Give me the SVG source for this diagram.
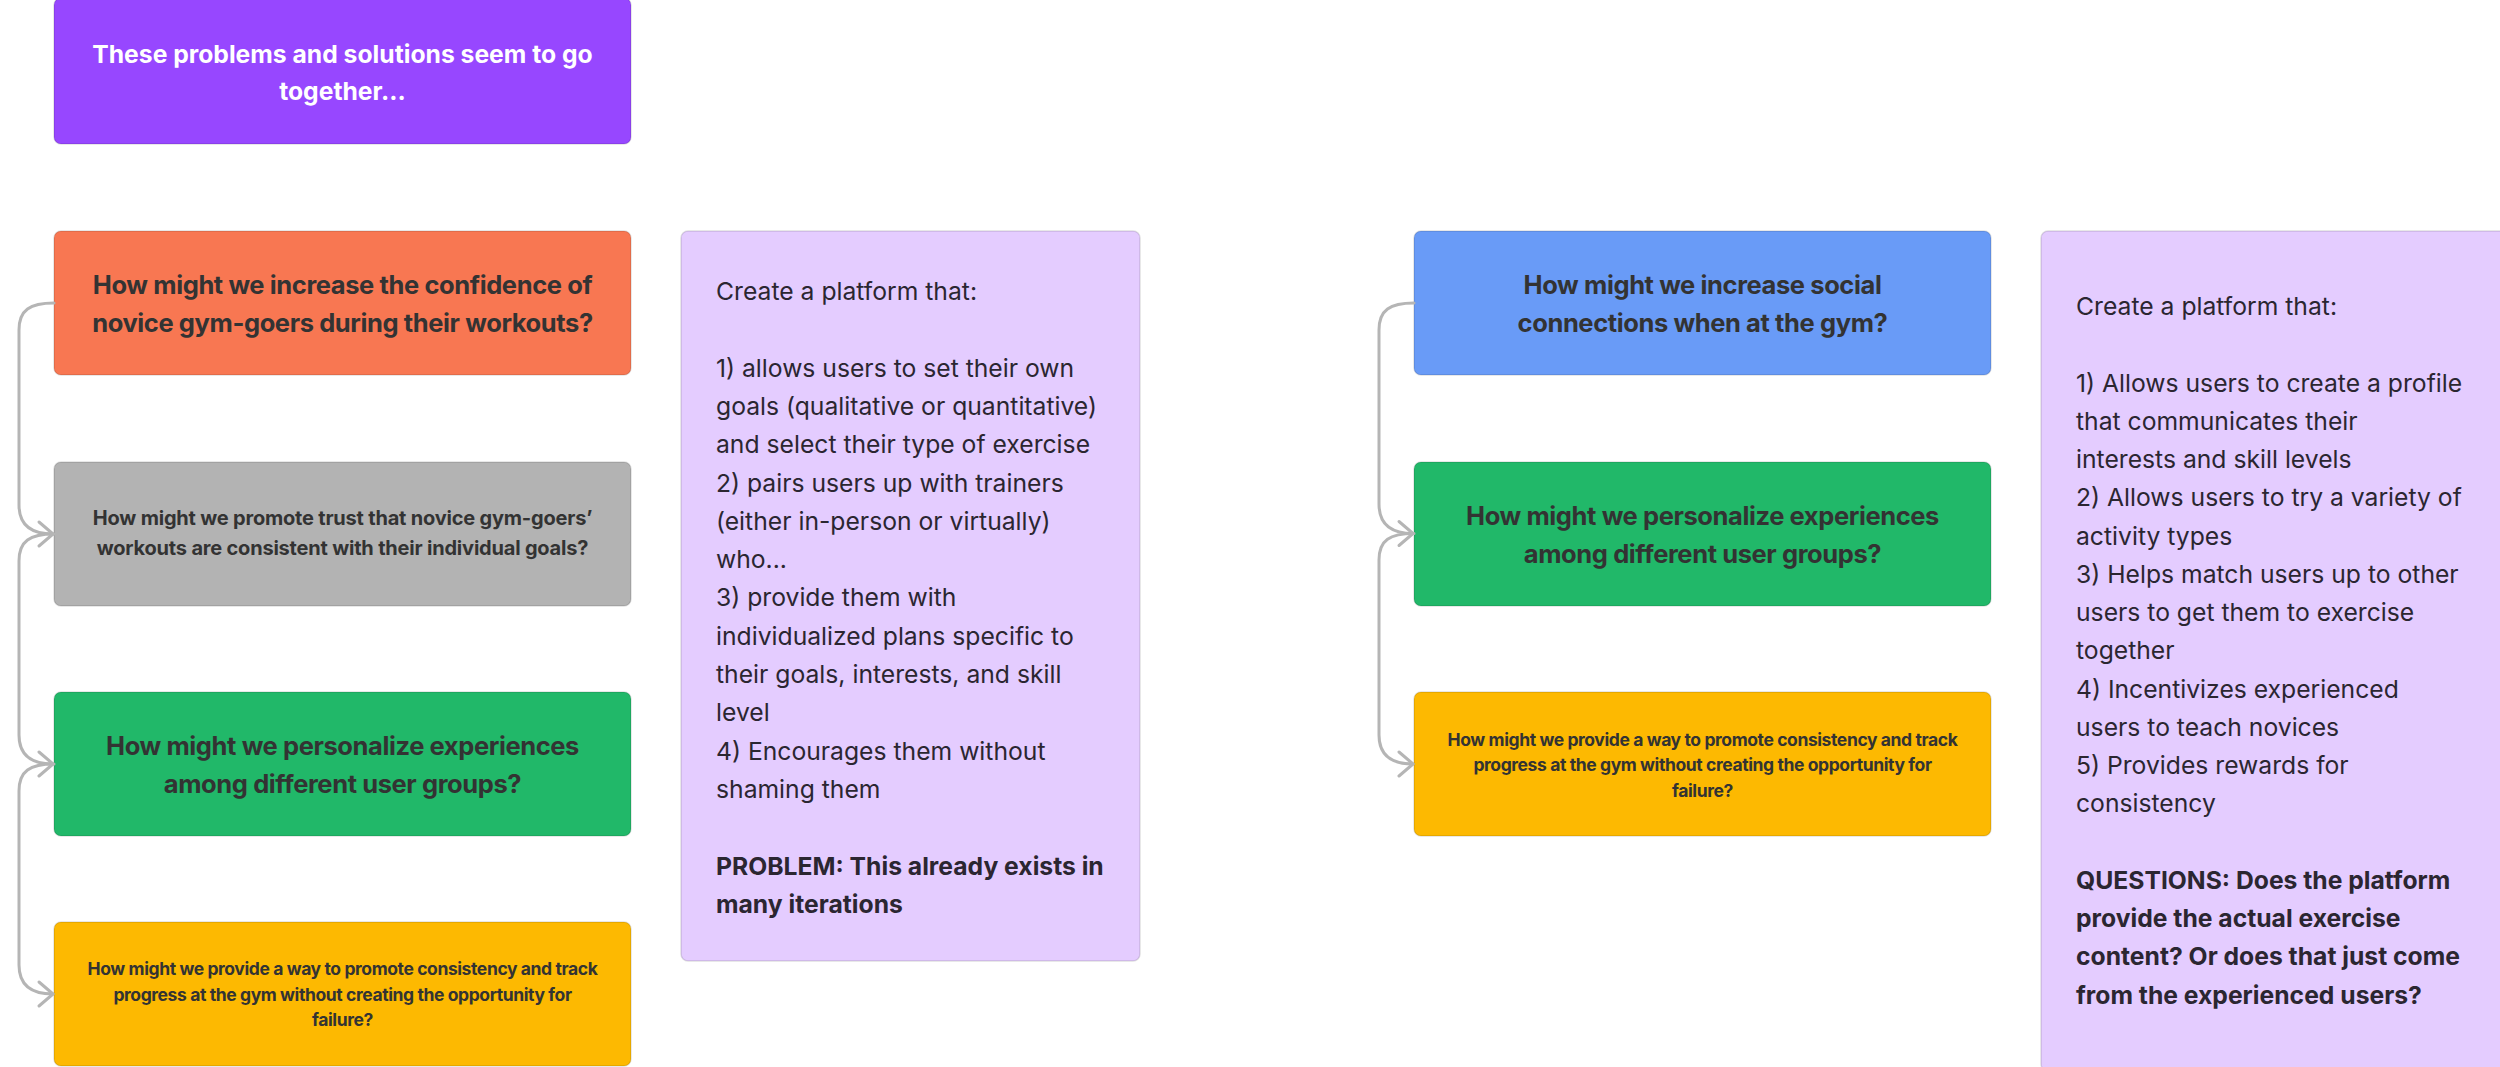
<svg xmlns="http://www.w3.org/2000/svg" width="2500" height="1067" viewBox="0 0 2500 1067">
<style>
.box{stroke:rgba(0,0,0,0.12);stroke-width:1.5}
.q{font-family:Inter,"Noto Sans",sans-serif;font-weight:700;fill:#333333;text-anchor:middle}
.big{font-size:25.5px;letter-spacing:-0.4px}
.mid{font-size:20px;letter-spacing:-0.2px}
.sm{font-size:17.5px;letter-spacing:-0.4px}
.title{font-family:Inter,"Noto Sans",sans-serif;font-weight:700;font-size:24.7px;fill:#ffffff;text-anchor:middle}
.sol{font-family:Inter,"Noto Sans",sans-serif;font-size:24.7px;fill:#2b2631}
.b{font-weight:700}
.conn{fill:none;stroke:#b5b5b5;stroke-width:3;stroke-linecap:round;stroke-linejoin:round}
</style>
<defs>
<marker id="chev" markerUnits="userSpaceOnUse" markerWidth="30" markerHeight="30" refX="0" refY="0" viewBox="-20 -15 25 30" orient="auto" overflow="visible">
<path d="M-14,-12 L0,0 L-14,12" fill="none" stroke="#b5b5b5" stroke-width="3" stroke-linecap="round" stroke-linejoin="round"/>
</marker>
</defs>
<rect width="2500" height="1067" fill="#ffffff"/>

<g id="title">
<rect class="box" x="54" y="-2" width="577" height="146" rx="7" fill="#9747FF"/>
<text class="title" x="342.5" y="62.5">These problems and solutions seem to go</text>
<text class="title" x="342.5" y="100">together...</text>
</g>

<g id="q-confidence">
<rect class="box" x="54" y="231" width="577" height="144" rx="7" fill="#F87752"/>
<text class="q big" x="342.5" y="294">How might we increase the confidence of</text>
<text class="q big" x="342.5" y="332">novice gym-goers during their workouts?</text>
</g>

<g id="q-trust">
<rect class="box" x="54" y="462" width="577" height="144" rx="7" fill="#B3B3B3"/>
<text class="q mid" x="342.5" y="524.5">How might we promote trust that novice gym-goers’</text>
<text class="q mid" x="342.5" y="555">workouts are consistent with their individual goals?</text>
</g>

<g id="q-personalize-left">
<rect class="box" x="54" y="692" width="577" height="144" rx="7" fill="#21B869"/>
<text class="q big" x="342.5" y="755">How might we personalize experiences</text>
<text class="q big" x="342.5" y="793">among different user groups?</text>
</g>

<g id="q-consistency-left">
<rect class="box" x="54" y="922" width="577" height="144" rx="7" fill="#FDB901"/>
<text class="q sm" x="342.5" y="975">How might we provide a way to promote consistency and track</text>
<text class="q sm" x="342.5" y="1000.7">progress at the gym without creating the opportunity for</text>
<text class="q sm" x="342.5" y="1026">failure?</text>
</g>

<g id="solution-left">
<rect class="box" x="681" y="231" width="459" height="730" rx="7" fill="#E4CCFF"/>
<text class="sol" x="716" y="300">Create a platform that:</text>
<text class="sol" x="716" y="376.6">1) allows users to set their own</text>
<text class="sol" x="716" y="414.9">goals (qualitative or quantitative)</text>
<text class="sol" x="716" y="453.2">and select their type of exercise</text>
<text class="sol" x="716" y="491.5">2) pairs users up with trainers</text>
<text class="sol" x="716" y="529.8">(either in-person or virtually)</text>
<text class="sol" x="716" y="568.1">who...</text>
<text class="sol" x="716" y="606.4">3) provide them with</text>
<text class="sol" x="716" y="644.7">individualized plans specific to</text>
<text class="sol" x="716" y="683">their goals, interests, and skill</text>
<text class="sol" x="716" y="721.3">level</text>
<text class="sol" x="716" y="759.6">4) Encourages them without</text>
<text class="sol" x="716" y="797.9">shaming them</text>
<text class="sol b" x="716" y="874.5">PROBLEM: This already exists in</text>
<text class="sol b" x="716" y="912.8">many iterations</text>
</g>

<g id="q-social">
<rect class="box" x="1414" y="231" width="577" height="144" rx="7" fill="#699BF7"/>
<text class="q big" x="1702.5" y="294">How might we increase social</text>
<text class="q big" x="1702.5" y="332">connections when at the gym?</text>
</g>

<g id="q-personalize-right">
<rect class="box" x="1414" y="462" width="577" height="144" rx="7" fill="#21B869"/>
<text class="q big" x="1702.5" y="525">How might we personalize experiences</text>
<text class="q big" x="1702.5" y="563">among different user groups?</text>
</g>

<g id="q-consistency-right">
<rect class="box" x="1414" y="692" width="577" height="144" rx="7" fill="#FDB901"/>
<text class="q sm" x="1702.5" y="745.5">How might we provide a way to promote consistency and track</text>
<text class="q sm" x="1702.5" y="771">progress at the gym without creating the opportunity for</text>
<text class="q sm" x="1702.5" y="796.5">failure?</text>
</g>

<g id="solution-right">
<rect class="box" x="2041" y="231" width="465" height="840" rx="7" fill="#E4CCFF"/>
<text class="sol" x="2076" y="315">Create a platform that:</text>
<text class="sol" x="2076" y="391.5">1) Allows users to create a profile</text>
<text class="sol" x="2076" y="429.75">that communicates their</text>
<text class="sol" x="2076" y="468">interests and skill levels</text>
<text class="sol" x="2076" y="506.25">2) Allows users to try a variety of</text>
<text class="sol" x="2076" y="544.5">activity types</text>
<text class="sol" x="2076" y="582.75">3) Helps match users up to other</text>
<text class="sol" x="2076" y="621">users to get them to exercise</text>
<text class="sol" x="2076" y="659.25">together</text>
<text class="sol" x="2076" y="697.5">4) Incentivizes experienced</text>
<text class="sol" x="2076" y="735.75">users to teach novices</text>
<text class="sol" x="2076" y="774">5) Provides rewards for</text>
<text class="sol" x="2076" y="812.25">consistency</text>
<text class="sol b" x="2076" y="888.75">QUESTIONS: Does the platform</text>
<text class="sol b" x="2076" y="927">provide the actual exercise</text>
<text class="sol b" x="2076" y="965.25">content? Or does that just come</text>
<text class="sol b" x="2076" y="1003.5">from the experienced users?</text>
</g>

<g id="connectors">
<path class="conn" marker-end="url(#chev)" d="M54,303 C30,303 19,310 19,330 L19,505 C19,524 30,534 53,534"/>
<path class="conn" marker-end="url(#chev)" d="M54,534 C30,534 19,541 19,561 L19,735 C19,754 30,764 53,764"/>
<path class="conn" marker-end="url(#chev)" d="M54,764 C30,764 19,771 19,791 L19,965 C19,984 30,994 53,994"/>
<path class="conn" marker-end="url(#chev)" d="M1414,303 C1390,303 1379,310 1379,330 L1379,504 C1379,523 1390,533.5 1413,533.5"/>
<path class="conn" marker-end="url(#chev)" d="M1414,533.5 C1390,533.5 1379,540 1379,560 L1379,735 C1379,754 1390,764 1413,764"/>
</g>
</svg>
